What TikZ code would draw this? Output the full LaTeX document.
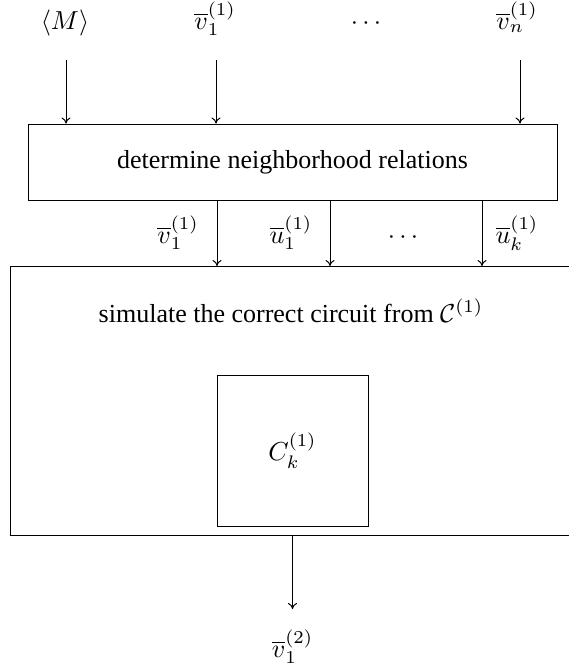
\documentclass[tikz,border=0pt]{standalone}
\usepackage[no-math]{fontspec}
\setmainfont{Liberation Serif}
\usetikzlibrary{arrows.meta}
\newcommand{\sz}[1]{\scalebox{2.6}{#1}}
\begin{document}
\begin{tikzpicture}[x=1pt,y=-1pt,
  every node/.style={font=\fontsize{10}{12}\selectfont, inner sep=0pt},
  lbl/.style={anchor=base},
  boxline/.style={draw, line width=1pt},
  arr/.style={line width=1pt, -{To[length=6pt,width=9pt]}}]
\useasboundingbox (0,0) rectangle (569,670);
\clip (0,0) rectangle (569,670);
% top labels
\node[lbl] (lm) at (65,29) {\sz{$\langle M\rangle$}};
\node[lbl] (lv1) at (215,29) {\sz{$\overline{v}_1^{(1)}$}};
\node[lbl] (ldots) at (366,29) {\sz{$\cdots$}};
\node[lbl] (lvn) at (517,29) {\sz{$\overline{v}_n^{(1)}$}};
% top box
\node[boxline, minimum width=529pt, minimum height=76pt] (det) at (292.5,162) {\sz{determine neighborhood relations}};
% top arrow starts
\coordinate (s1) at (66,60);
\coordinate (s2) at (216,60);
\coordinate (s3) at (520,60);
\draw[arr] (s1) -- (s1 |- det.north);
\draw[arr] (s2) -- (s2 |- det.north);
\draw[arr] (s3) -- (s3 |- det.north);
% big box (open on the right)
\node[boxline, minimum width=600pt, minimum height=269pt, anchor=north west] (sim) at (10,266) {};
\node[anchor=base] (simtext) at (291,322) {\sz{simulate the correct circuit from $\mathcal{C}^{(1)}$}};
% middle arrows
\coordinate (m1) at (217,200);
\coordinate (m2) at (330,200);
\coordinate (m3) at (482,200);
\draw[arr] (m1) -- (m1 |- sim.north);
\draw[arr] (m2) -- (m2 |- sim.north);
\draw[arr] (m3) -- (m3 |- sim.north);
% middle labels
\node[lbl] (mv1) at (178,243) {\sz{$\overline{v}_1^{(1)}$}};
\node[lbl] (mu1) at (291,243) {\sz{$\overline{u}_1^{(1)}$}};
\node[lbl] (mdots) at (403,243) {\sz{$\cdots$}};
\node[lbl] (muk) at (517,243) {\sz{$\overline{u}_k^{(1)}$}};
% inner box
\node[boxline, minimum width=151pt, minimum height=151pt] (ck) at (292.5,450.5) {\sz{$C_k^{(1)}$}};
% bottom arrow and label
\coordinate (b0) at (292.5,535);
\coordinate (b1) at (292.5,609);
\draw[arr] (b0) -- (b1);
\node[lbl] (out) at (292.5,657) {\sz{$\overline{v}_1^{(2)}$}};
\end{tikzpicture}
\end{document}
